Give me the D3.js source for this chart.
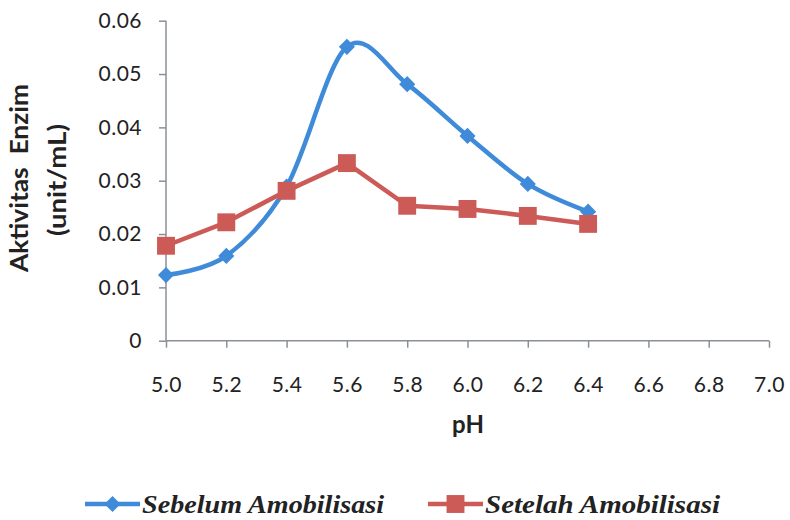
<!DOCTYPE html>
<html>
<head>
<meta charset="utf-8">
<script src="https://cdn.jsdelivr.net/npm/d3@7"></script>
<style>
  html, body { margin: 0; padding: 0; background: #ffffff; }
  svg { display: block; }
</style>
</head>
<body>
<svg id="chart" width="790" height="520"></svg>
<script>
// pH values at which enzyme activity was measured
const phValues = [5.0, 5.2, 5.4, 5.6, 5.8, 6.0, 6.2, 6.4];
// Enzyme activity (unit/mL) before immobilisation
const sebelum = [0.0123, 0.0159, 0.0289, 0.0551, 0.0481, 0.0384, 0.0294, 0.0242];
// Enzyme activity (unit/mL) after immobilisation
const setelah = [0.0178, 0.0222, 0.0281, 0.0333, 0.0253, 0.0247, 0.0234, 0.0219];
// Axis ticks
const xTicks = [5.0, 5.2, 5.4, 5.6, 5.8, 6.0, 6.2, 6.4, 6.6, 6.8, 7.0];
const yTicks = [0, 0.01, 0.02, 0.03, 0.04, 0.05, 0.06];
const seriesNames = ["Sebelum Amobilisasi", "Setelah Amobilisasi"];

const blue = "#3f8bd9";
const red = "#cc5a57";
const axisColor = "#8a8f99";
const textColor = "#222222";
const tickFont = "Lato, 'Open Sans', sans-serif";

const svg = d3.select("#chart");
const x = d3.scaleLinear().domain([5.0, 7.0]).range([166, 769]);
const y = d3.scaleLinear().domain([0, 0.06]).range([340.7, 20.7]);

// Y axis
const yAxis = svg.append("g")
  .attr("transform", `translate(${x.range()[0]},0)`)
  .call(d3.axisLeft(y).tickValues(yTicks).tickSize(7).tickPadding(17)
    .tickFormat(d => d === 0 ? "0" : d3.format(".2f")(d)));
// X axis
const xAxis = svg.append("g")
  .attr("transform", `translate(0,${y(0)})`)
  .call(d3.axisBottom(x).tickValues(xTicks).tickSize(7).tickPadding(29)
    .tickFormat(d3.format(".1f")));

[yAxis, xAxis].forEach(g => {
  g.select(".domain").attr("stroke", axisColor).attr("stroke-width", 1.5);
  g.selectAll(".tick line").attr("stroke", axisColor).attr("stroke-width", 1.5);
  g.selectAll(".tick text")
    .attr("fill", textColor)
    .style("font-family", tickFont)
    .style("font-size", "21px")
    .style("letter-spacing", "0.5px");
});
// Axes end cleanly at their last ticks
yAxis.select(".domain").attr("d", `M0,${y(0.06)}V${y(0)}`);
xAxis.select(".domain").attr("d", `M${x(5.0)},0H${x(7.0)}`);

// Axis titles
svg.append("text")
  .attr("x", 468).attr("y", 433)
  .attr("text-anchor", "middle")
  .style("font-family", tickFont).style("font-weight", "bold").style("font-size", "24px")
  .attr("fill", textColor)
  .text("pH");

const yTitleFont = t => t
  .attr("text-anchor", "middle")
  .attr("lengthAdjust", "spacingAndGlyphs")
  .style("font-family", tickFont).style("font-weight", "bold").style("font-size", "24px")
  .style("white-space", "pre")
  .attr("fill", textColor);

svg.append("text")
  .attr("transform", "translate(28,178) rotate(-90)")
  .attr("textLength", 188)
  .call(yTitleFont)
  .text("Aktivitas  Enzim");

svg.append("text")
  .attr("transform", "translate(66,180) rotate(-90)")
  .attr("textLength", 112)
  .call(yTitleFont)
  .text("(unit/mL)");

// Lines
const smoothLine = d3.line()
  .x((d, i) => x(phValues[i]))
  .y(d => y(d))
  .curve(d3.curveCardinal.tension(0));
const straightLine = d3.line()
  .x((d, i) => x(phValues[i]))
  .y(d => y(d));

svg.append("path")
  .datum(sebelum)
  .attr("d", smoothLine)
  .attr("fill", "none").attr("stroke", blue).attr("stroke-width", 4.5)
  .attr("stroke-linejoin", "round").attr("stroke-linecap", "round");

svg.append("path")
  .datum(setelah)
  .attr("d", straightLine)
  .attr("fill", "none").attr("stroke", red).attr("stroke-width", 4.5)
  .attr("stroke-linejoin", "round");

// Markers
const diamond = d3.symbol().type(d3.symbolSquare).size(130);
const square = d3.symbol().type(d3.symbolSquare).size(320);

svg.append("g").selectAll("path")
  .data(sebelum)
  .join("path")
  .attr("d", diamond)
  .attr("transform", (d, i) => `translate(${x(phValues[i])},${y(d)}) rotate(45)`)
  .attr("fill", blue);

svg.append("g").selectAll("path")
  .data(setelah)
  .join("path")
  .attr("d", square)
  .attr("transform", (d, i) => `translate(${x(phValues[i])},${y(d)})`)
  .attr("fill", red);

// Legend
const legendFont = "'Liberation Serif', 'Times New Roman', serif";
const legendY = 504;
const legend = svg.append("g");
const items = [
  { name: seriesNames[0], color: blue, x0: 85, sym: "d", len: 242 },
  { name: seriesNames[1], color: red, x0: 428, sym: "s", len: 235 }
];
items.forEach(it => {
  legend.append("line")
    .attr("x1", it.x0).attr("x2", it.x0 + 55)
    .attr("y1", legendY).attr("y2", legendY)
    .attr("stroke", it.color).attr("stroke-width", 4.5);
  legend.append("path")
    .attr("d", it.sym === "d" ? diamond : square)
    .attr("transform", `translate(${it.x0 + 27.5},${legendY})` + (it.sym === "d" ? " rotate(45)" : ""))
    .attr("fill", it.color);
  legend.append("text")
    .attr("x", it.x0 + 57).attr("y", legendY + 9)
    .attr("textLength", it.len)
    .attr("lengthAdjust", "spacingAndGlyphs")
    .style("font-family", legendFont).style("font-weight", "bold").style("font-style", "italic")
    .style("font-size", "26px")
    .attr("fill", textColor)
    .text(it.name);
});
</script>
</body>
</html>
